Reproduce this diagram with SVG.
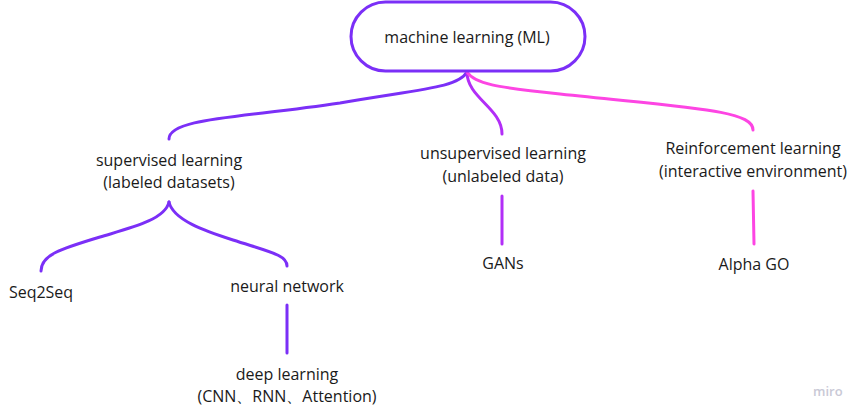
<svg xmlns="http://www.w3.org/2000/svg" width="860" height="416" viewBox="0 0 860 416">
<style>
text{font-family:"Open Sans","Noto Sans","Liberation Sans",sans-serif;font-size:16px;fill:#1a1a1a;text-anchor:middle}
.c{fill:none;stroke-width:3;stroke-linecap:round}
.p{stroke:#7b2ff7}
.m{stroke:#b22ef7}
.k{stroke:#fd45e3}
.wm{font-size:13px;font-weight:600;fill:#c9c9d6;text-anchor:start}
</style>
<rect width="860" height="416" fill="#ffffff"/>
<g id="connectors">
<path class="c p" d="M467,72 C458,88 420,89 340,103 C240,118 169,118 169,139"/>
<path class="c m" d="M467,72 C467,98 502,108 502,134"/>
<path class="c k" d="M467,72 C475,84 495,87 560,94 C690,108 753,110 753,130"/>
<path class="c p" d="M169,202 C165,220 130,228 100,237 C60,249 41,255 41,271"/>
<path class="c p" d="M169,202 C173,220 205,231 233,240 C270,252 287,255 287,266"/>
<path class="c m" d="M502,196 L502,244"/>
<path class="c k" d="M753,191 L754,244"/>
<path class="c p" d="M287,305 L287,353"/>
</g>
<g id="ml">
<rect x="351" y="2" width="234" height="69" rx="34.5" fill="#ffffff" stroke="#7b2ff7" stroke-width="3"/>
<text x="467" y="43">machine learning (ML)</text>
</g>
<g id="supervised">
<text x="169" y="166">supervised learning</text>
<text x="169" y="188">(labeled datasets)</text>
</g>
<g id="unsupervised">
<text x="503" y="159">unsupervised learning</text>
<text x="503" y="182">(unlabeled data)</text>
</g>
<g id="reinforcement">
<text x="753" y="154">Reinforcement learning</text>
<text x="753" y="177">(interactive environment)</text>
</g>
<g id="seq2seq"><text x="41" y="298">Seq2Seq</text></g>
<g id="neural"><text x="287" y="292">neural network</text></g>
<g id="deep">
<text x="287" y="380">deep learning</text>
<text x="287" y="402">(CNN、RNN、Attention)</text>
</g>
<g id="gans"><text x="503" y="269">GANs</text></g>
<g id="alphago"><text x="754" y="270">Alpha GO</text></g>
<text class="wm" x="813" y="396">miro</text>
</svg>
